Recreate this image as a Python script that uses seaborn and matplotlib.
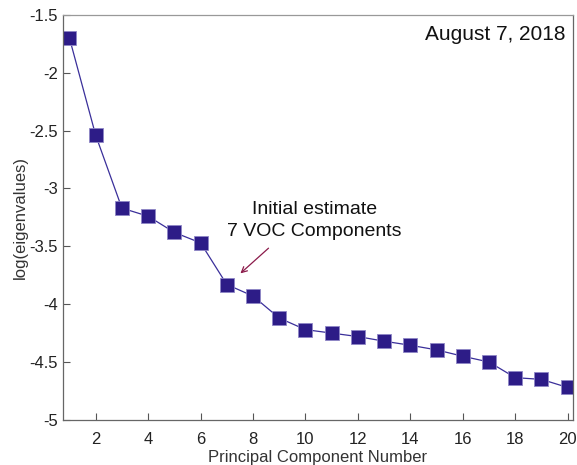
import seaborn as sns
import matplotlib.pyplot as plt
import pandas as pd

components = list(range(1, 21))
log_eig = [-1.70, -2.54, -3.17, -3.24, -3.38, -3.47, -3.83, -3.93, -4.12, -4.22,
           -4.25, -4.28, -4.32, -4.355, -4.395, -4.45, -4.50, -4.635, -4.65, -4.72]
xticks = list(range(2, 21, 2))
yticks = [-5, -4.5, -4, -3.5, -3, -2.5, -2, -1.5]
ytick_labels = ['-5', '-4.5', '-4', '-3.5', '-3', '-2.5', '-2', '-1.5']

df = pd.DataFrame({'pc': components, 'logeig': log_eig})

sns.set_style('white')
plt.rcParams['font.family'] = ['Liberation Sans', 'DejaVu Sans']
plt.rcParams['axes.unicode_minus'] = False

fig = plt.figure(figsize=(5.77, 4.65), dpi=100)
ax = fig.add_axes([0.109, 0.097, 0.884, 0.871])

sns.lineplot(x='pc', y='logeig', data=df, ax=ax, color='#3a2f9a', linewidth=0.9,
             marker='s', markersize=9.5, markerfacecolor='#2d1c87',
             markeredgecolor='#8f86c6', markeredgewidth=0.6)

ax.set_xlim(0.75, 20.2)
ax.set_ylim(-5, -1.5)
ax.set_xticks(xticks)
ax.set_yticks(yticks)
ax.set_yticklabels(ytick_labels)
ax.tick_params(direction='in', length=5, width=0.8, color='#555555',
               labelsize=12, labelcolor='#222222', bottom=True, left=True)
ax.tick_params(axis='x', pad=9)
for s in ax.spines.values():
    s.set_color('#666666')
    s.set_linewidth(0.9)
ax.spines['top'].set_color('#999999')

ax.set_xlabel('Principal Component Number', fontsize=12, color='#333333', labelpad=2)
ax.set_ylabel('log(eigenvalues)', fontsize=12, color='#333333', labelpad=1)

ax.text(0.985, 0.975, 'August 7, 2018', transform=ax.transAxes, ha='right', va='top',
        fontsize=15, color='#111111')

ax.annotate('', xy=(7.44, -3.75), xytext=(8.67, -3.50),
            arrowprops=dict(arrowstyle='->', color='#8b1a4a', lw=0.9))
ax.text(10.35, -3.18, 'Initial estimate', ha='center', va='center', fontsize=14, color='#111111')
ax.text(10.35, -3.375, '7 VOC Components', ha='center', va='center', fontsize=14, color='#111111')

fig.savefig('out.png', dpi=100)
